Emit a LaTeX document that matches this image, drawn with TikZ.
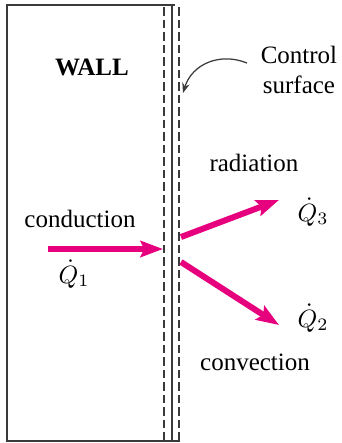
\documentclass[tikz,border=0pt]{standalone}
\usepackage{fontspec}
\setmainfont{Liberation Serif}
\usetikzlibrary{arrows.meta,positioning}
\definecolor{heatpink}{HTML}{E6007E}
\definecolor{wallgray}{HTML}{3A3A3A}

\begin{document}
\begin{tikzpicture}[x=0.4pt,y=-0.4pt,font=\fontsize{10}{12}\selectfont,
  flow/.style={-{Stealth[length=9pt,width=6.5pt,inset=1.5pt]},heatpink,line width=2.4pt},
  csline/.style={wallgray,line width=0.8pt,dash pattern=on 3.4pt off 1.6pt}]
  \useasboundingbox (0,0) rectangle (342,443);
  % wall and control surface
  \draw[wallgray,line width=0.9pt] (175,5) -- (7,5) -- (7,441) -- (180,441);
  \draw[wallgray,line width=0.9pt] (172,5) -- (172,441);
  \draw[csline] (164,7) -- (164,441);
  \draw[csline] (179,7) -- (179,441);
  \node[font=\fontsize{10}{12}\selectfont\bfseries] (wall) at (92,67) {WALL};
  \node[align=center] (cs) at (299,70) {Control\\surface};
  \coordinate (cstip) at (183,93);
  \draw[-{Stealth[length=4pt,width=3pt]},wallgray,line width=0.5pt]
        ([shift={(-2pt,2.8pt)}]cs.west) .. controls (220,52) and (192,64) .. (cstip);
  % heat flows
  \coordinate (qin) at (48,249);
  \coordinate (tip1) at (163,249);
  \coordinate (out3) at (181,237);
  \coordinate (tip3) at (279,200);
  \coordinate (out2) at (181,262);
  \coordinate (tip2) at (279,325);
  \draw[flow] (qin) -- (tip1);
  \draw[flow] (out3) -- (tip3);
  \draw[flow] (out2) -- (tip2);
  \node (cond) at (80,219) {conduction};
  \node (q1) at (74,274) {$\dot{Q}_1$};
  \node (rad) at (254,163) {radiation};
  \node (q3) at (313,212) {$\dot{Q}_3$};
  \node (q2) at (313,318) {$\dot{Q}_2$};
  \node (conv) at (255,362) {convection};
\end{tikzpicture}
\end{document}
